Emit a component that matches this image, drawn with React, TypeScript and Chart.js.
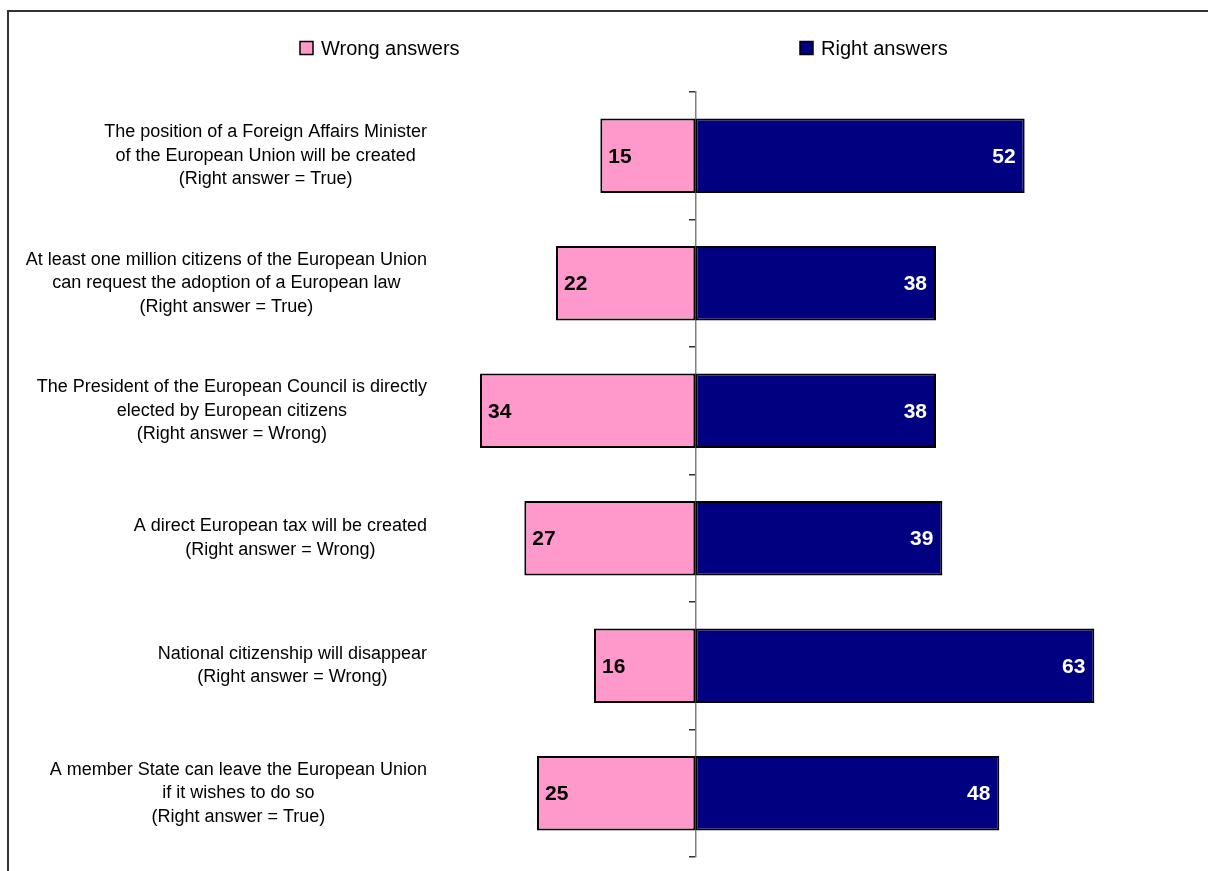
import React, { useEffect, useRef } from "react";
import { Chart, registerables } from "chart.js";

Chart.register(...registerables);

const categories: string[][] = [
  ["The position of a Foreign Affairs Minister", "of the European Union will be created", "(Right answer = True)"],
  ["At least one million citizens of the European Union", "can request the adoption of a European law", "(Right answer = True)"],
  ["The President of the European Council is directly", "elected by European citizens", "(Right answer = Wrong)"],
  ["A direct European tax will be created", "(Right answer = Wrong)"],
  ["National citizenship will disappear", "(Right answer = Wrong)"],
  ["A member State can leave the European Union", "if it wishes to do so", "(Right answer = True)"],
];

const wrongAnswers = [15, 22, 34, 27, 16, 25];
const rightAnswers = [52, 38, 38, 39, 63, 48];

const seriesNames = ["Wrong answers", "Right answers"];
const seriesColors = ["#FF99CC", "#000080"];

const FONT = "'Liberation Sans', Arial, Helvetica, sans-serif";

const framePlugin = {
  id: "frame",
  beforeDraw(chart: any) {
    const ctx = chart.ctx;
    ctx.save();
    ctx.fillStyle = "#ffffff";
    ctx.fillRect(0, 0, chart.width, chart.height);
    ctx.strokeStyle = "#333333";
    ctx.lineWidth = 2;
    ctx.beginPath();
    ctx.moveTo(8, chart.height + 2);
    ctx.lineTo(8, 11);
    ctx.lineTo(chart.width + 2, 11);
    ctx.stroke();
    ctx.restore();
  },
};

const legendPlugin = {
  id: "customLegend",
  afterDraw(chart: any) {
    const ctx = chart.ctx;
    const items = [
      { x: 300, text: seriesNames[0], color: seriesColors[0] },
      { x: 800, text: seriesNames[1], color: seriesColors[1] },
    ];
    const cy = 48;
    ctx.save();
    ctx.font = `20px ${FONT}`;
    ctx.textBaseline = "middle";
    ctx.textAlign = "left";
    items.forEach((it) => {
      ctx.fillStyle = it.color;
      ctx.fillRect(it.x, cy - 6.5, 13, 13);
      ctx.strokeStyle = "#000";
      ctx.lineWidth = 1.5;
      ctx.strokeRect(it.x, cy - 6.5, 13, 13);
      ctx.fillStyle = "#000";
      ctx.fillText(it.text, it.x + 21, cy + 1);
    });
    ctx.restore();
  },
};

const categoryLabelPlugin = {
  id: "categoryLabels",
  afterDraw(chart: any) {
    const ctx = chart.ctx;
    const yScale = chart.scales.y;
    const right = chart.chartArea.left - 15;
    const lineH = 23.5;
    ctx.save();
    ctx.font = `18px ${FONT}`;
    ctx.fillStyle = "#000";
    ctx.textAlign = "center";
    ctx.textBaseline = "middle";
    categories.forEach((lines, i) => {
      const yc = yScale.getPixelForValue(i);
      const w = Math.max(...lines.map((l) => ctx.measureText(l).width));
      const cx = right - w / 2;
      lines.forEach((line, j) => {
        const y = yc + (j - (lines.length - 1) / 2) * lineH;
        ctx.fillText(line, cx, y);
      });
    });
    ctx.restore();
  },
};

const valueLabelPlugin = {
  id: "valueLabels",
  afterDatasetsDraw(chart: any) {
    const ctx = chart.ctx;
    ctx.save();
    ctx.font = `bold 21px ${FONT}`;
    ctx.textBaseline = "middle";
    const m0 = chart.getDatasetMeta(0);
    const m1 = chart.getDatasetMeta(1);
    m0.data.forEach((el: any, i: number) => {
      const left = Math.min(el.x, el.base);
      ctx.fillStyle = "#000";
      ctx.textAlign = "left";
      ctx.fillText(String(wrongAnswers[i]), left + 8, el.y + 1);
    });
    m1.data.forEach((el: any, i: number) => {
      const right = Math.max(el.x, el.base);
      ctx.fillStyle = "#fff";
      ctx.textAlign = "right";
      ctx.fillText(String(rightAnswers[i]), right - 9, el.y + 1);
    });
    ctx.restore();
  },
};

export default function App() {
  const ref = useRef<HTMLCanvasElement | null>(null);
  useEffect(() => {
    if (!ref.current) return;
    const chart = new Chart(ref.current, {
      type: "bar",
      data: {
        labels: categories,
        datasets: [
          {
            label: seriesNames[0],
            data: wrongAnswers.map((v) => -v),
            backgroundColor: seriesColors[0],
            borderColor: "#000",
            borderWidth: 2,
            borderSkipped: false,
            categoryPercentage: 1,
            barPercentage: 0.585,
          },
          {
            label: seriesNames[1],
            data: rightAnswers,
            backgroundColor: seriesColors[1],
            borderColor: "#000",
            borderWidth: 2,
            borderSkipped: false,
            categoryPercentage: 1,
            barPercentage: 0.585,
          },
        ],
      },
      options: {
        indexAxis: "y",
        responsive: false,
        animation: false,
        devicePixelRatio: 1,
        layout: { padding: { left: 442, right: 6, top: 92, bottom: 14 } },
        plugins: {
          legend: { display: false },
          tooltip: { enabled: false },
          title: { display: false },
        },
        scales: {
          x: {
            display: false,
            stacked: true,
            min: -40,
            max: 80,
          },
          y: {
            stacked: true,
            position: { x: 0 },
            ticks: { display: false },
            grid: {
              drawOnChartArea: false,
              offset: true,
              drawTicks: true,
              tickLength: 6,
              color: "#333333",
              lineWidth: 1.5,
            },
            border: { display: true, color: "#808080", width: 1.5 },
          },
        },
      } as any,
      plugins: [framePlugin, legendPlugin, categoryLabelPlugin, valueLabelPlugin],
    });
    return () => chart.destroy();
  }, []);
  return (
    <div style={{ position: "fixed", left: 0, top: 0, width: 1208, height: 871, background: "#fff" }}>
      <canvas ref={ref} width={1208} height={871} style={{ display: "block" }} />
    </div>
  );
}
